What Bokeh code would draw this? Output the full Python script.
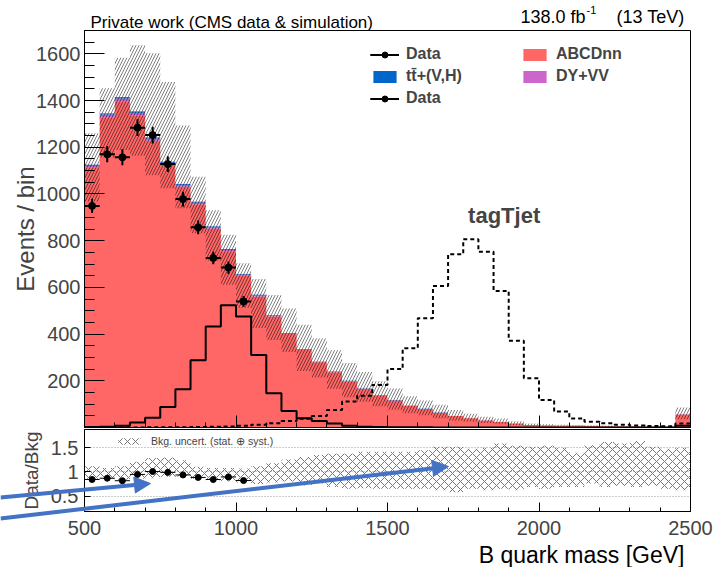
import numpy as np
from bokeh.plotting import figure
from bokeh.layouts import column
from bokeh.models import (Range1d, FixedTicker, Label, Legend, LegendItem,
                          Arrow, NormalHead, GridBox)
from bokeh.embed import file_html
from bokeh.resources import INLINE

FONT = "Liberation Sans"

# ---------------- data ----------------
x_min, x_max, bin_w = 500, 2500, 50

abcdnn = [1112, 1329, 1397, 1337, 1228, 1125, 1031, 956, 851, 755,
          650, 561, 475, 400, 332, 279, 237, 197, 165, 138,
          116, 93, 79, 63, 49, 39.5, 30.5, 23.7, 16.7, 10.8,
          8.8, 7.8, 6.8, 5.9, 5.0, 4.0, 4.0, 3.0, 3.0, 56]
dy_vv = [9, 11, 12, 11, 10, 9, 8, 8, 7, 6,
         5, 5, 4, 3, 3, 2, 2, 2, 1.4, 1.2,
         1.0, 0.8, 0.7, 0.5, 0.4, 0.3, 0.3, 0.2, 0.2, 0.1,
         0.1, 0.1, 0.1, 0.1, 0, 0, 0, 0, 0, 0.5]
ttv = [4, 5, 5, 5, 4, 4, 4, 3, 3, 3,
       2, 2, 2, 1.5, 1.2, 1.0, 0.9, 0.8, 0.6, 0.5,
       0.4, 0.4, 0.3, 0.3, 0.2, 0.2, 0.2, 0.1, 0.1, 0.1,
       0.1, 0.1, 0.1, 0, 0, 0, 0, 0, 0, 0.3]
unc_up = [1.12, 1.08, 1.12, 1.21, 1.29, 1.30, 1.24, 1.11, 1.08, 1.08,
          1.07, 1.12, 1.18, 1.26, 1.31, 1.35, 1.38, 1.38, 1.42, 1.42,
          1.42, 1.42, 1.45, 1.52, 1.52, 1.48, 1.50, 1.59, 1.55, 1.52,
          1.55, 1.50, 1.40, 1.56, 1.62, 1.59, 1.64, 1.52, 1.48, 1.50]
unc_dn = [0.86, 0.86, 0.84, 0.86, 0.87, 0.90, 0.90, 0.86, 0.83, 0.80,
          0.78, 0.75, 0.78, 0.80, 0.72, 0.76, 0.69, 0.65, 0.66, 0.65,
          0.65, 0.65, 0.65, 0.62, 0.58, 0.65, 0.62, 0.65, 0.62, 0.69,
          0.65, 0.69, 0.69, 0.76, 0.69, 0.71, 0.69, 0.71, 0.65, 0.62]
data = [949, 1170, 1157, 1284, 1252, 1128, 978, 857, 726, 685, 540]
signal_a = [2, 3, 7, 21, 42, 88, 164, 288, 432, 524,
            475, 310, 147, 71, 40, 28, 17, 7, 3, 2,
            1, 1, 1, 0, 0, 0, 0, 0, 0, 0,
            0, 0, 0, 0, 0, 0, 0, 0, 0, 8]
signal_b = [0, 0, 0, 0, 1, 1, 1, 2, 3, 4,
            7, 12, 18, 28, 38, 49, 75, 111, 136, 182,
            250, 339, 468, 606, 742, 806, 753, 585, 372, 211,
            118, 68, 39, 25, 18, 12, 9, 6, 5, 17]

main_y_ticks = [200, 400, 600, 800, 1000, 1200, 1400, 1600]
x_ticks = [500, 1000, 1500, 2000, 2500]
ratio_y_ticks = [0.5, 1, 1.5]

# hand-drawn annotation arrows (page pixels: x from left, y from top)
arrow_a = dict(x0=0, y0=497, x1=150, y1=483)
arrow_b = dict(x0=0, y0=518, x1=448, y1=466)

# ---------------- derived ----------------
edges = np.arange(x_min, x_max + bin_w, bin_w).astype(float)
centers = edges[:-1] + bin_w / 2.0
s1 = np.array(abcdnn, float)
s2 = s1 + np.array(dy_vv, float)
s3 = s2 + np.array(ttv, float)


def stepy(a):
    a = np.asarray(a, float)
    return np.append(a, a[-1])


# ---------------- main panel ----------------
main = figure(frame_width=606, frame_height=397,
              x_range=Range1d(x_min, x_max), y_range=Range1d(0, 1700),
              min_border_left=84, min_border_right=23, min_border_top=30,
              min_border_bottom=2, output_backend="svg", toolbar_location=None)
main.grid.visible = False
main.outline_line_color = "black"
main.outline_line_width = 1

zeros = np.zeros(len(edges))
r_abcd = main.varea_step(x=edges, y1=zeros, y2=stepy(s1), step_mode="after",
                         fill_color="#FF6666")
r_dy = main.varea_step(x=edges, y1=stepy(s1), y2=stepy(s2), step_mode="after",
                       fill_color="#CC66CC")
r_tt = main.varea_step(x=edges, y1=stepy(s2), y2=stepy(s3), step_mode="after",
                       fill_color="#0066CC")
main.varea_step(x=edges, y1=stepy(s3 * np.array(unc_dn)), y2=stepy(s3 * np.array(unc_up)),
                step_mode="after", fill_color=None, hatch_pattern="/",
                hatch_color="black", hatch_alpha=0.5, hatch_scale=6, hatch_weight=1)

main.step(x=edges, y=stepy(signal_a), mode="after", line_color="black", line_width=2)
main.step(x=edges, y=stepy(signal_b), mode="after", line_color="black", line_width=2,
          line_dash="4 3")

d = np.array(data, float)
nd = len(d)
c = centers[:nd]
de = np.sqrt(d)
r_dh = main.segment(x0=c - bin_w / 2, y0=d, x1=c + bin_w / 2, y1=d,
                    line_color="black", line_width=2)
r_dv = main.segment(x0=c, y0=d - de, x1=c, y1=d + de, line_color="black", line_width=2)
r_dp = main.scatter(x=c, y=d, size=7, marker="circle", fill_color="black",
                    line_color="black")

ya = main.yaxis[0]
ya.ticker = FixedTicker(ticks=main_y_ticks, minor_ticks=list(range(0, 1701, 50)))
ya.major_tick_in = 20
ya.major_tick_out = 0
ya.minor_tick_in = 10
ya.minor_tick_out = 0
ya.major_label_text_font = FONT
ya.major_label_text_font_size = "20px"
ya.major_label_standoff = 4
ya.axis_label = "Events / bin"
ya.axis_label_text_font = FONT
ya.axis_label_text_font_size = "24px"
ya.axis_label_text_font_style = "normal"
ya.axis_label_standoff = -6
ya.axis_line_color = "black"

xa = main.xaxis[0]
xa.ticker = FixedTicker(ticks=x_ticks, minor_ticks=list(range(x_min, x_max + 1, 100)))
xa.major_tick_in = 12
xa.major_tick_out = 0
xa.minor_tick_in = 5
xa.minor_tick_out = 0
xa.major_label_text_font_size = "1px"
xa.major_label_text_color = None
xa.major_label_standoff = 0
xa.axis_line_color = "black"

leg_kw = dict(label_text_font=FONT, label_text_font_style="bold", label_text_font_size="16px",
              glyph_width=29, glyph_height=15, label_height=18, spacing=4, padding=0,
              margin=0, border_line_alpha=0, background_fill_alpha=0, label_standoff=7)
leg1 = Legend(items=[LegendItem(label="Data", renderers=[r_dh, r_dv, r_dp]),
                     LegendItem(label="t\u0074\u0304+(V,H)", renderers=[r_tt]),
                     LegendItem(label="Data", renderers=[r_dh, r_dv, r_dp])],
              location=(286, 320), **leg_kw)
leg2 = Legend(items=[LegendItem(label="ABCDnn", renderers=[r_abcd]),
                     LegendItem(label="DY+VV", renderers=[r_dy])],
              location=(436, 342), **leg_kw)
main.add_layout(leg1)
main.add_layout(leg2)

main.add_layout(Label(x=1885, y=906, text="tagTjet", text_align="center",
                      text_baseline="alphabetic", text_font=FONT, text_font_style="bold",
                      text_font_size="22px"))

# ---------------- ratio panel ----------------
ratio = figure(frame_width=606, frame_height=82, x_range=main.x_range,
               y_range=Range1d(0.18, 1.88),
               min_border_left=84, min_border_right=23, min_border_top=0,
               min_border_bottom=0, output_backend="svg", toolbar_location=None)
ratio.outline_line_color = "black"
ratio.xgrid.visible = False
ratio.ygrid.ticker = FixedTicker(ticks=ratio_y_ticks)
ratio.ygrid.grid_line_color = "#999999"
ratio.ygrid.grid_line_dash = "1 2"
ratio.ygrid.grid_line_width = 1

r_band = ratio.varea_step(x=edges, y1=stepy(unc_dn), y2=stepy(unc_up), step_mode="after",
                          fill_color=None, hatch_pattern="x", hatch_color="#777777",
                          hatch_scale=8, hatch_weight=1)

rr = d / s3[:nd]
re = de / s3[:nd]
ratio.segment(x0=c - bin_w / 2, y0=rr, x1=c + bin_w / 2, y1=rr, line_color="black", line_width=1)
ratio.segment(x0=c, y0=rr - re, x1=c, y1=rr + re, line_color="black", line_width=1)
ratio.scatter(x=c, y=rr, size=6, marker="circle", fill_color="black", line_color="black")

rya = ratio.yaxis[0]
rya.ticker = FixedTicker(ticks=ratio_y_ticks, minor_ticks=[])
rya.major_label_overrides = {0.5: "0.5", 1: "1", 1.5: "1.5"}
rya.major_tick_in = 6
rya.major_tick_out = 0
rya.minor_tick_in = 0
rya.minor_tick_out = 0
rya.major_label_text_font = FONT
rya.major_label_text_font_size = "20px"
rya.major_label_standoff = 6
rya.axis_label = "Data/Bkg"
rya.axis_label_text_font = FONT
rya.axis_label_text_font_size = "19px"
rya.axis_label_text_font_style = "normal"
rya.axis_label_standoff = 6
rya.axis_line_color = "black"

rxa = ratio.xaxis[0]
rxa.ticker = FixedTicker(ticks=x_ticks, minor_ticks=list(range(x_min, x_max + 1, 100)))
rxa.major_tick_in = 9
rxa.major_tick_out = 0
rxa.minor_tick_in = 4
rxa.minor_tick_out = 0
rxa.major_label_text_font = FONT
rxa.major_label_text_font_size = "20px"
rxa.major_label_standoff = 9
rxa.axis_line_color = "black"

leg3 = Legend(items=[LegendItem(label="Bkg. uncert. (stat. \u2295 syst.)", renderers=[r_band])],
              location=(31, 64), label_text_font=FONT, label_text_font_size="10.5px",
              glyph_width=28, glyph_height=8, label_height=12, padding=0, margin=0,
              border_line_alpha=0, background_fill_alpha=0, label_standoff=8)
ratio.add_layout(leg3)

# ---------------- transparent overlay (header texts, x title, arrows) ----------------
overlay = figure(width=713, height=567, x_range=Range1d(0, 713), y_range=Range1d(567, 0),
                 min_border=0, x_axis_location=None, y_axis_location=None,
                 output_backend="svg", toolbar_location=None)
overlay.grid.visible = False
overlay.outline_line_color = None
overlay.background_fill_color = None
overlay.border_fill_color = None

hdr = dict(text_font=FONT, text_baseline="alphabetic", text_color="black")
overlay.add_layout(Label(x=90, y=22, text="Private work (CMS data & simulation)",
                         text_font_size="17px", **hdr))
overlay.add_layout(Label(x=585, y=16, text="138.0 fb", text_align="right",
                         text_font_size="18px", **hdr))
overlay.add_layout(Label(x=586, y=9, text="-1", text_align="left",
                         text_font_size="11px", **hdr))
overlay.add_layout(Label(x=684, y=16, text="(13 TeV)", text_align="right",
                         text_font_size="18px", **hdr))
overlay.add_layout(Label(x=684, y=554, text="B quark mass [GeV]", text_align="right",
                         text_font_size="23px", **hdr))

blue = "#4472C4"
for a in (arrow_a, arrow_b):
    overlay.add_layout(Arrow(x_start=a["x0"], y_start=a["y0"], x_end=a["x1"], y_end=a["y1"],
                             line_color=blue, line_width=4,
                             end=NormalHead(size=16, fill_color=blue, line_color=blue)))

stack = column(main, ratio, spacing=0)
layout = GridBox(children=[(stack, 0, 0), (overlay, 0, 0)])
open("out.html", "w").write(file_html(layout, INLINE))
